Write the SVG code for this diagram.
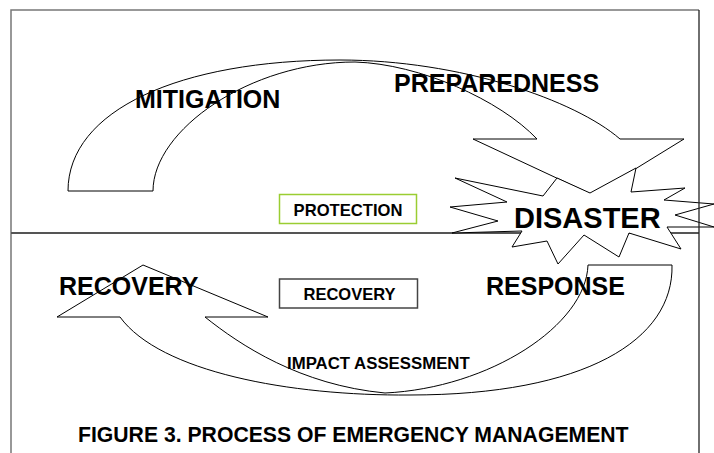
<svg xmlns="http://www.w3.org/2000/svg" width="714" height="453" viewBox="0 0 714 453">
<style>
.t{font-family:"Liberation Sans",Arial,sans-serif;font-weight:bold;fill:#000}
.arr{fill:#fff;stroke:#000;stroke-width:1;stroke-linejoin:miter}
</style>
<rect x="0" y="0" width="714" height="453" fill="#fff"/>
<g id="frame">
<path d="M11,453 V10 H699" fill="none" stroke="#777" stroke-width="1.5"/>
<line x1="11" y1="233" x2="699" y2="233" stroke="#555" stroke-width="2"/>
</g>
<g id="connectors">
<path id="arrow-top" class="arr" d="M68,191 C68,110 180,60 340,60 C460,60 575,100 620,139 L684,139 L593,195 L473,139 L537,139 C500,100 420,64 355,62 C250,62 153,130 153,191 Z"/>
<path id="arrow-bottom" class="arr" d="M672,265 C674,340 585,395 410,395 C290,396 160,372 120,317 L57,317 L143,265 L268,317 L205,317 C240,345 300,385 385,393 C490,388 586,325 588,265 Z"/>
</g>
<g id="disaster">
<polygon points="636,168 631,192 685,188 664,200 714,204 675,215 714,227 667,227 681,249 629,233 619,257 584,235 558,264 547,241 512,247 522,231 452,233 498,221 450,207 507,202 455,178 543,196 557,178 590,193" fill="#fff" stroke="#000" stroke-width="1"/>
<text class="t" x="514" y="228" font-size="29">DISASTER</text>
</g>
<line x1="699" y1="10" x2="699" y2="453" stroke="#222" stroke-width="1.3"/>
<g id="mitigation"><text class="t" x="135" y="108" font-size="25">MITIGATION</text></g>
<g id="preparedness"><text class="t" x="394" y="92" font-size="25">PREPAREDNESS</text></g>
<g id="protection">
<rect x="279.5" y="194.5" width="137" height="29" fill="#fff" stroke="#9acd32" stroke-width="1.5"/>
<text class="t" x="348" y="216" font-size="16.6" text-anchor="middle">PROTECTION</text>
</g>
<g id="recovery-box">
<rect x="279.5" y="279" width="138" height="29" fill="#fff" stroke="#444" stroke-width="1.5"/>
<text class="t" x="349.5" y="300" font-size="16.5" text-anchor="middle">RECOVERY</text>
</g>
<g id="recovery"><text class="t" x="59" y="295" font-size="25">RECOVERY</text></g>
<g id="response"><text class="t" x="486" y="295" font-size="25">RESPONSE</text></g>
<g id="impact"><text class="t" x="287" y="369" font-size="16.8">IMPACT ASSESSMENT</text></g>
<g id="caption"><text class="t" x="78" y="442" font-size="21.2">FIGURE 3. PROCESS OF EMERGENCY MANAGEMENT</text></g>
</svg>
